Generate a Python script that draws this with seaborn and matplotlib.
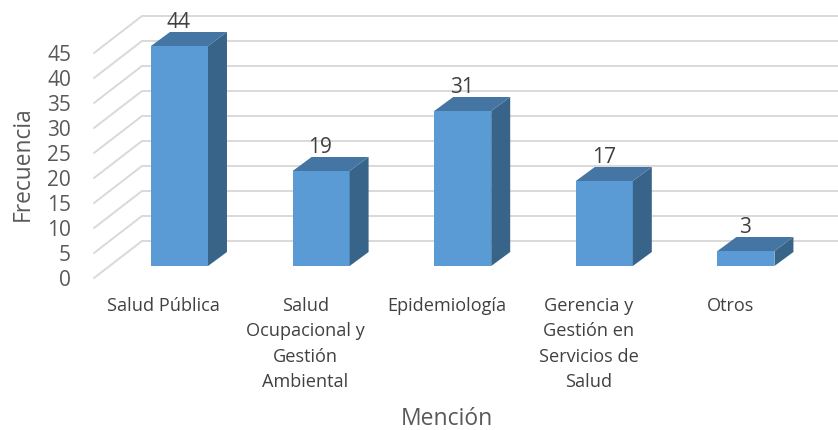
import matplotlib
matplotlib.use('Agg')
import matplotlib.pyplot as plt
import pandas as pd
import seaborn as sns

menciones = ['Salud Pública', 'Salud\nOcupacional y\nGestión\nAmbiental', 'Epidemiología',
             'Gerencia y\nGestión en\nServicios de\nSalud', 'Otros']
frecuencia = [44, 19, 31, 17, 3]
yTicks = [0, 5, 10, 15, 20, 25, 30, 35, 40, 45]

sns.set_style('white')
plt.rcParams['font.family'] = ['Open Sans', 'DejaVu Sans']

front = '#5B9BD5'
side = '#396489'
top = '#4575A3'
gridColor = '#D9D9D9'
textColor = '#595959'

# fake 3d offsets, in data units
barDx, barDy = 0.134, 2.8
wallBack, wallFront = 5.0, -2.4
wallX = -0.265

df = pd.DataFrame({'mencion': menciones, 'frecuencia': frecuencia})

fig = plt.figure(figsize=(8.38, 4.31), dpi=100)
ax = fig.add_axes([94 / 838, 1 - 286 / 431, 744 / 838, 275 / 431])

sns.barplot(data=df, x='mencion', y='frecuencia', color=front, saturation=1, width=0.4025,
            linewidth=0, ax=ax, zorder=3)

xmin, xmax = -0.6038, 4.650
ax.set_xlim(xmin, xmax)
ax.set_ylim(-3.8, 51.2)

# floor and back wall lines
for t in yTicks:
    ax.plot([xmin, wallX, xmax], [t + wallFront, t + wallBack, t + wallBack],
            color=gridColor, lw=1.4, zorder=1, clip_on=False, solid_joinstyle='miter')

# side and top faces of the bars
for bar, v in zip(ax.patches, frecuencia):
    x0 = bar.get_x()
    x1 = x0 + bar.get_width()
    ax.fill([x1, x1 + barDx, x1 + barDx, x1], [0, barDy, v + barDy, v], color=side, lw=0, zorder=3)
    ax.fill([x0, x0 + barDx, x1 + barDx, x1], [v, v + barDy, v + barDy, v], color=top, lw=0, zorder=3)
    ax.text(x0 + bar.get_width() / 2 - 0.005, v + barDy, str(v), ha='center', va='bottom',
            fontsize=15, color='#404040', zorder=4)

ax.set_yticks([t - 2.2 for t in yTicks])
ax.set_yticklabels(yTicks, fontsize=15, color=textColor)
ax.set_xticks([i - 0.11 for i in range(len(menciones))])
ax.set_xticklabels(menciones, fontsize=13.1, color='#404040', linespacing=1.52, va='top')
ax.tick_params(axis='y', length=0, pad=16.5)
ax.tick_params(axis='x', length=0, pad=8)

ax.set_xlabel('Mención', fontsize=16.5, color=textColor)
ax.set_ylabel('Frecuencia', fontsize=16.4, color=textColor)
ax.xaxis.set_label_coords((447 - 94) / 744, (286 - 407) / 275)
ax.yaxis.set_label_coords((35 - 94) / 744, (286 - 164) / 275)

sns.despine(ax=ax, left=True, bottom=True)

fig.savefig('out.png', dpi=100)
plt.close(fig)
